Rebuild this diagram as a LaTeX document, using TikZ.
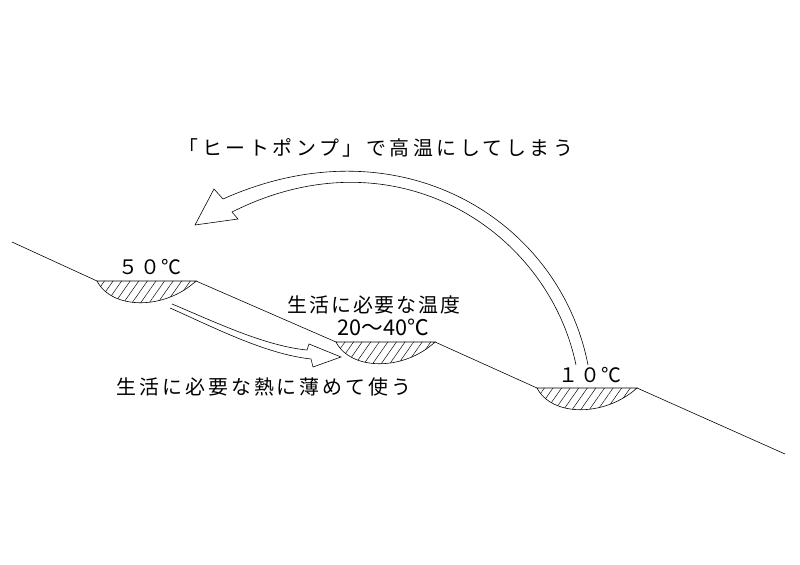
\documentclass[tikz,border=0pt]{standalone}
\usepackage{fontspec}
\newfontfamily\jp{Noto Sans CJK JP}
\usetikzlibrary{patterns.meta}

\begin{document}
\begin{tikzpicture}[x=0.03cm,y=-0.03cm,
ground/.style={draw,line width=0.5pt},
basin/.style={draw,line width=0.5pt,pattern={Lines[angle=55,distance=6pt,line width=0.4pt]}},
hollow/.style={draw,line width=0.5pt,line join=miter},
label/.style={inner sep=0pt,font=\jp\fontsize{17}{19}\selectfont}
]
\useasboundingbox (0,0) rectangle (800,565);
\coordinate (top) at (12,242);
\coordinate (hotL) at (97,281);
\coordinate (hotR) at (196,281);
\coordinate (warmL) at (336,342);
\coordinate (warmR) at (435,342);
\coordinate (coldL) at (537,388);
\coordinate (coldR) at (637,388);
\coordinate (bottom) at (785,454);
\draw[ground] (top)--(hotL) (hotR)--(warmL) (warmR)--(coldL) (coldR)--(bottom);
\draw[basin] (hotL) .. controls (112,310) and (165,310) .. (hotR) -- cycle;
\draw[basin] (warmL) .. controls (351,371) and (404,371) .. (warmR) -- cycle;
\draw[basin] (coldL) .. controls (552,417) and (605,417) .. (coldR) -- cycle;
\node[label,font=\jp\fontsize{17}{19}\addfontfeature{LetterSpace=8}\selectfont] (hot) at (150,267) {５０℃};
\node[label,font=\jp\fontsize{17}{19}\addfontfeature{LetterSpace=8}\selectfont] (cold) at (590,375) {１０℃};
\node[label,font=\jp\fontsize{17}{19}\addfontfeature{LetterSpace=10}\selectfont] (need) at (374,305) {生活に必要な温度};
\node[label,font=\jp\fontsize{18.5}{19}\selectfont] (range) at (383,327) {20～40℃};
\node[label,font=\jp\fontsize{17}{19}\addfontfeature{LetterSpace=15}\selectfont] (dilute) at (264,387) {生活に必要な熱に薄めて使う};
\node[label,font=\jp\fontsize{17}{19}\addfontfeature{LetterSpace=18}\selectfont] (pump) at (376,148) {「ヒートポンプ」で高温にしてしまう};
% hollow arrows
\coordinate (pumpOut) at (588,365);
\coordinate (pumpIn) at (576,365);
\coordinate (useOut) at (172,304);
\coordinate (useIn) at (170,308);
\draw[hollow] (pumpOut) .. controls (560,220) and (400,120) .. (223,199) -- (214,189) -- (195,225) -- (238,219) -- (232,212) .. controls (395,130) and (548,230) .. (pumpIn);
\draw[hollow] (useOut) .. controls (215,322) and (265,346) .. (307,350) -- (309,344) -- (341,357) -- (313,367) -- (311,359) .. controls (265,354) and (213,327) .. (useIn);
\end{tikzpicture}
\end{document}
